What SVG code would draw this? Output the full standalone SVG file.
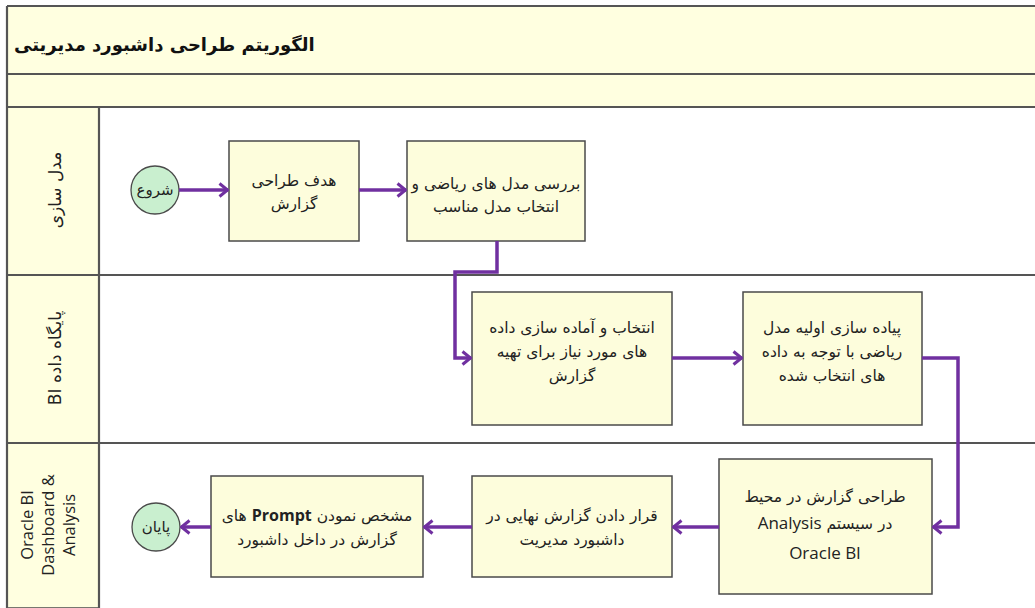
<svg xmlns="http://www.w3.org/2000/svg" width="1035" height="608" viewBox="0 0 1035 608">
<style>
.band{fill:#FFFFE0;}
.hdr{fill:#FFFFE0;stroke:#4a4a4a;stroke-width:1.5;}
.sep{stroke:#555;stroke-width:2.2;fill:none;}
.box{fill:#FDFDDC;stroke:#4a4a4a;stroke-width:1.5;}
.circ{fill:#C9EFCF;stroke:#4a4a4a;stroke-width:1.3;}
.t{font-family:"DejaVu Sans",sans-serif;font-size:15.5px;fill:#222;text-anchor:middle;direction:rtl;}
.lt{font-family:"Open Sans","Liberation Sans",sans-serif;font-size:16.5px;fill:#222;text-anchor:middle;}
.title{font-family:"DejaVu Sans",sans-serif;font-size:18px;font-weight:bold;fill:#111;}
.con{fill:none;stroke:#7030A0;stroke-width:3.5;}
.en{font-family:"Open Sans","Liberation Sans",sans-serif;}
</style>
<defs>
<marker id="ah" markerUnits="userSpaceOnUse" viewBox="0 0 11 16" refX="10" refY="8" markerWidth="11" markerHeight="16" orient="auto">
<path d="M1.5,1.5 L9.5,8 L1.5,14.5" fill="none" stroke="#7030A0" stroke-width="3"/>
</marker>
</defs>
<rect x="0" y="0" width="1035" height="608" fill="#fff"/>
<g id="frame">
<rect class="band" x="7" y="6" width="1028" height="101"/>
<rect class="hdr" x="7" y="107" width="92" height="501"/>
<path class="sep" d="M7,6 H1035 M7,74 H1035 M7,107 H1035 M7,275 H1035 M7,443 H1035 M7,6 V608 M99,107 V608"/>
<text class="title" x="14" y="51">الگوریتم طراحی داشبورد مدیریتی</text>
</g>
<g id="lane-modeling">
<text class="t" style="font-size:17px" transform="translate(61,190) rotate(-90)">مدل سازی</text>
</g>
<g id="lane-bidb">
<text class="t" style="font-size:17px" transform="translate(61,358) rotate(-90)">پایگاه داده BI</text>
</g>
<g id="lane-oracle">
<text class="lt" transform="translate(33,525) rotate(-90)">Oracle BI</text>
<text class="lt" transform="translate(54,525) rotate(-90)">Dashboard &amp;</text>
<text class="lt" transform="translate(75,525) rotate(-90)">Analysis</text>
</g>
<g id="start">
<circle class="circ" cx="155" cy="190" r="24"/>
<text class="t" x="155" y="195" style="font-size:15px">شروع</text>
</g>
<g id="n1">
<rect class="box" x="229" y="141" width="130" height="100"/>
<text class="t" x="294" y="186">هدف طراحی</text>
<text class="t" x="294" y="209">گزارش</text>
</g>
<g id="n2">
<rect class="box" x="407" y="141" width="178" height="100"/>
<text class="t" x="496" y="189">بررسی مدل های ریاضی و</text>
<text class="t" x="496" y="212">انتخاب مدل مناسب</text>
</g>
<g id="n3">
<rect class="box" x="472" y="292" width="200" height="133"/>
<text class="t" x="572" y="333">انتخاب و آماده سازی داده</text>
<text class="t" x="572" y="357">های مورد نیاز برای تهیه</text>
<text class="t" x="572" y="381">گزارش</text>
</g>
<g id="n4">
<rect class="box" x="743" y="292" width="179" height="133"/>
<text class="t" x="832" y="333">پیاده سازی اولیه مدل</text>
<text class="t" x="832" y="357">ریاضی با توجه به داده</text>
<text class="t" x="832" y="381">های انتخاب شده</text>
</g>
<g id="n5">
<rect class="box" x="719" y="459" width="213" height="135"/>
<text class="t" x="825" y="502">طراحی گزارش در محیط</text>
<text class="t" x="825" y="529">در سیستم <tspan class="en" style="font-size:17px">Analysis</tspan></text>
<text class="lt" x="825" y="559" style="font-size:17px">Oracle BI</text>
</g>
<g id="n6">
<rect class="box" x="472" y="476" width="200" height="101"/>
<text class="t" x="572" y="521">قرار دادن گزارش نهایی در</text>
<text class="t" x="572" y="545">داشبورد مدیریت</text>
</g>
<g id="n7">
<rect class="box" x="211" y="476" width="212" height="101"/>
<text class="t" x="317" y="521">مشخص نمودن <tspan class="en" style="font-weight:bold;font-size:16px">Prompt</tspan> های</text>
<text class="t" x="317" y="545">گزارش در داخل داشبورد</text>
</g>
<g id="end">
<circle class="circ" cx="156" cy="527" r="24"/>
<text class="t" x="156" y="532" style="font-size:15px">پایان</text>
</g>
<g id="connectors">
<path class="con" marker-end="url(#ah)" d="M179,190 H228"/>
<path class="con" marker-end="url(#ah)" d="M359,190 H406"/>
<path class="con" marker-end="url(#ah)" d="M497,241 V272 H455 V358 H471"/>
<path class="con" marker-end="url(#ah)" d="M672,358 H742"/>
<path class="con" marker-end="url(#ah)" d="M922,358 H958 V527 H933"/>
<path class="con" marker-end="url(#ah)" d="M719,527 H673"/>
<path class="con" marker-end="url(#ah)" d="M472,527 H424"/>
<path class="con" marker-end="url(#ah)" d="M211,527 H181"/>
</g>
</svg>
